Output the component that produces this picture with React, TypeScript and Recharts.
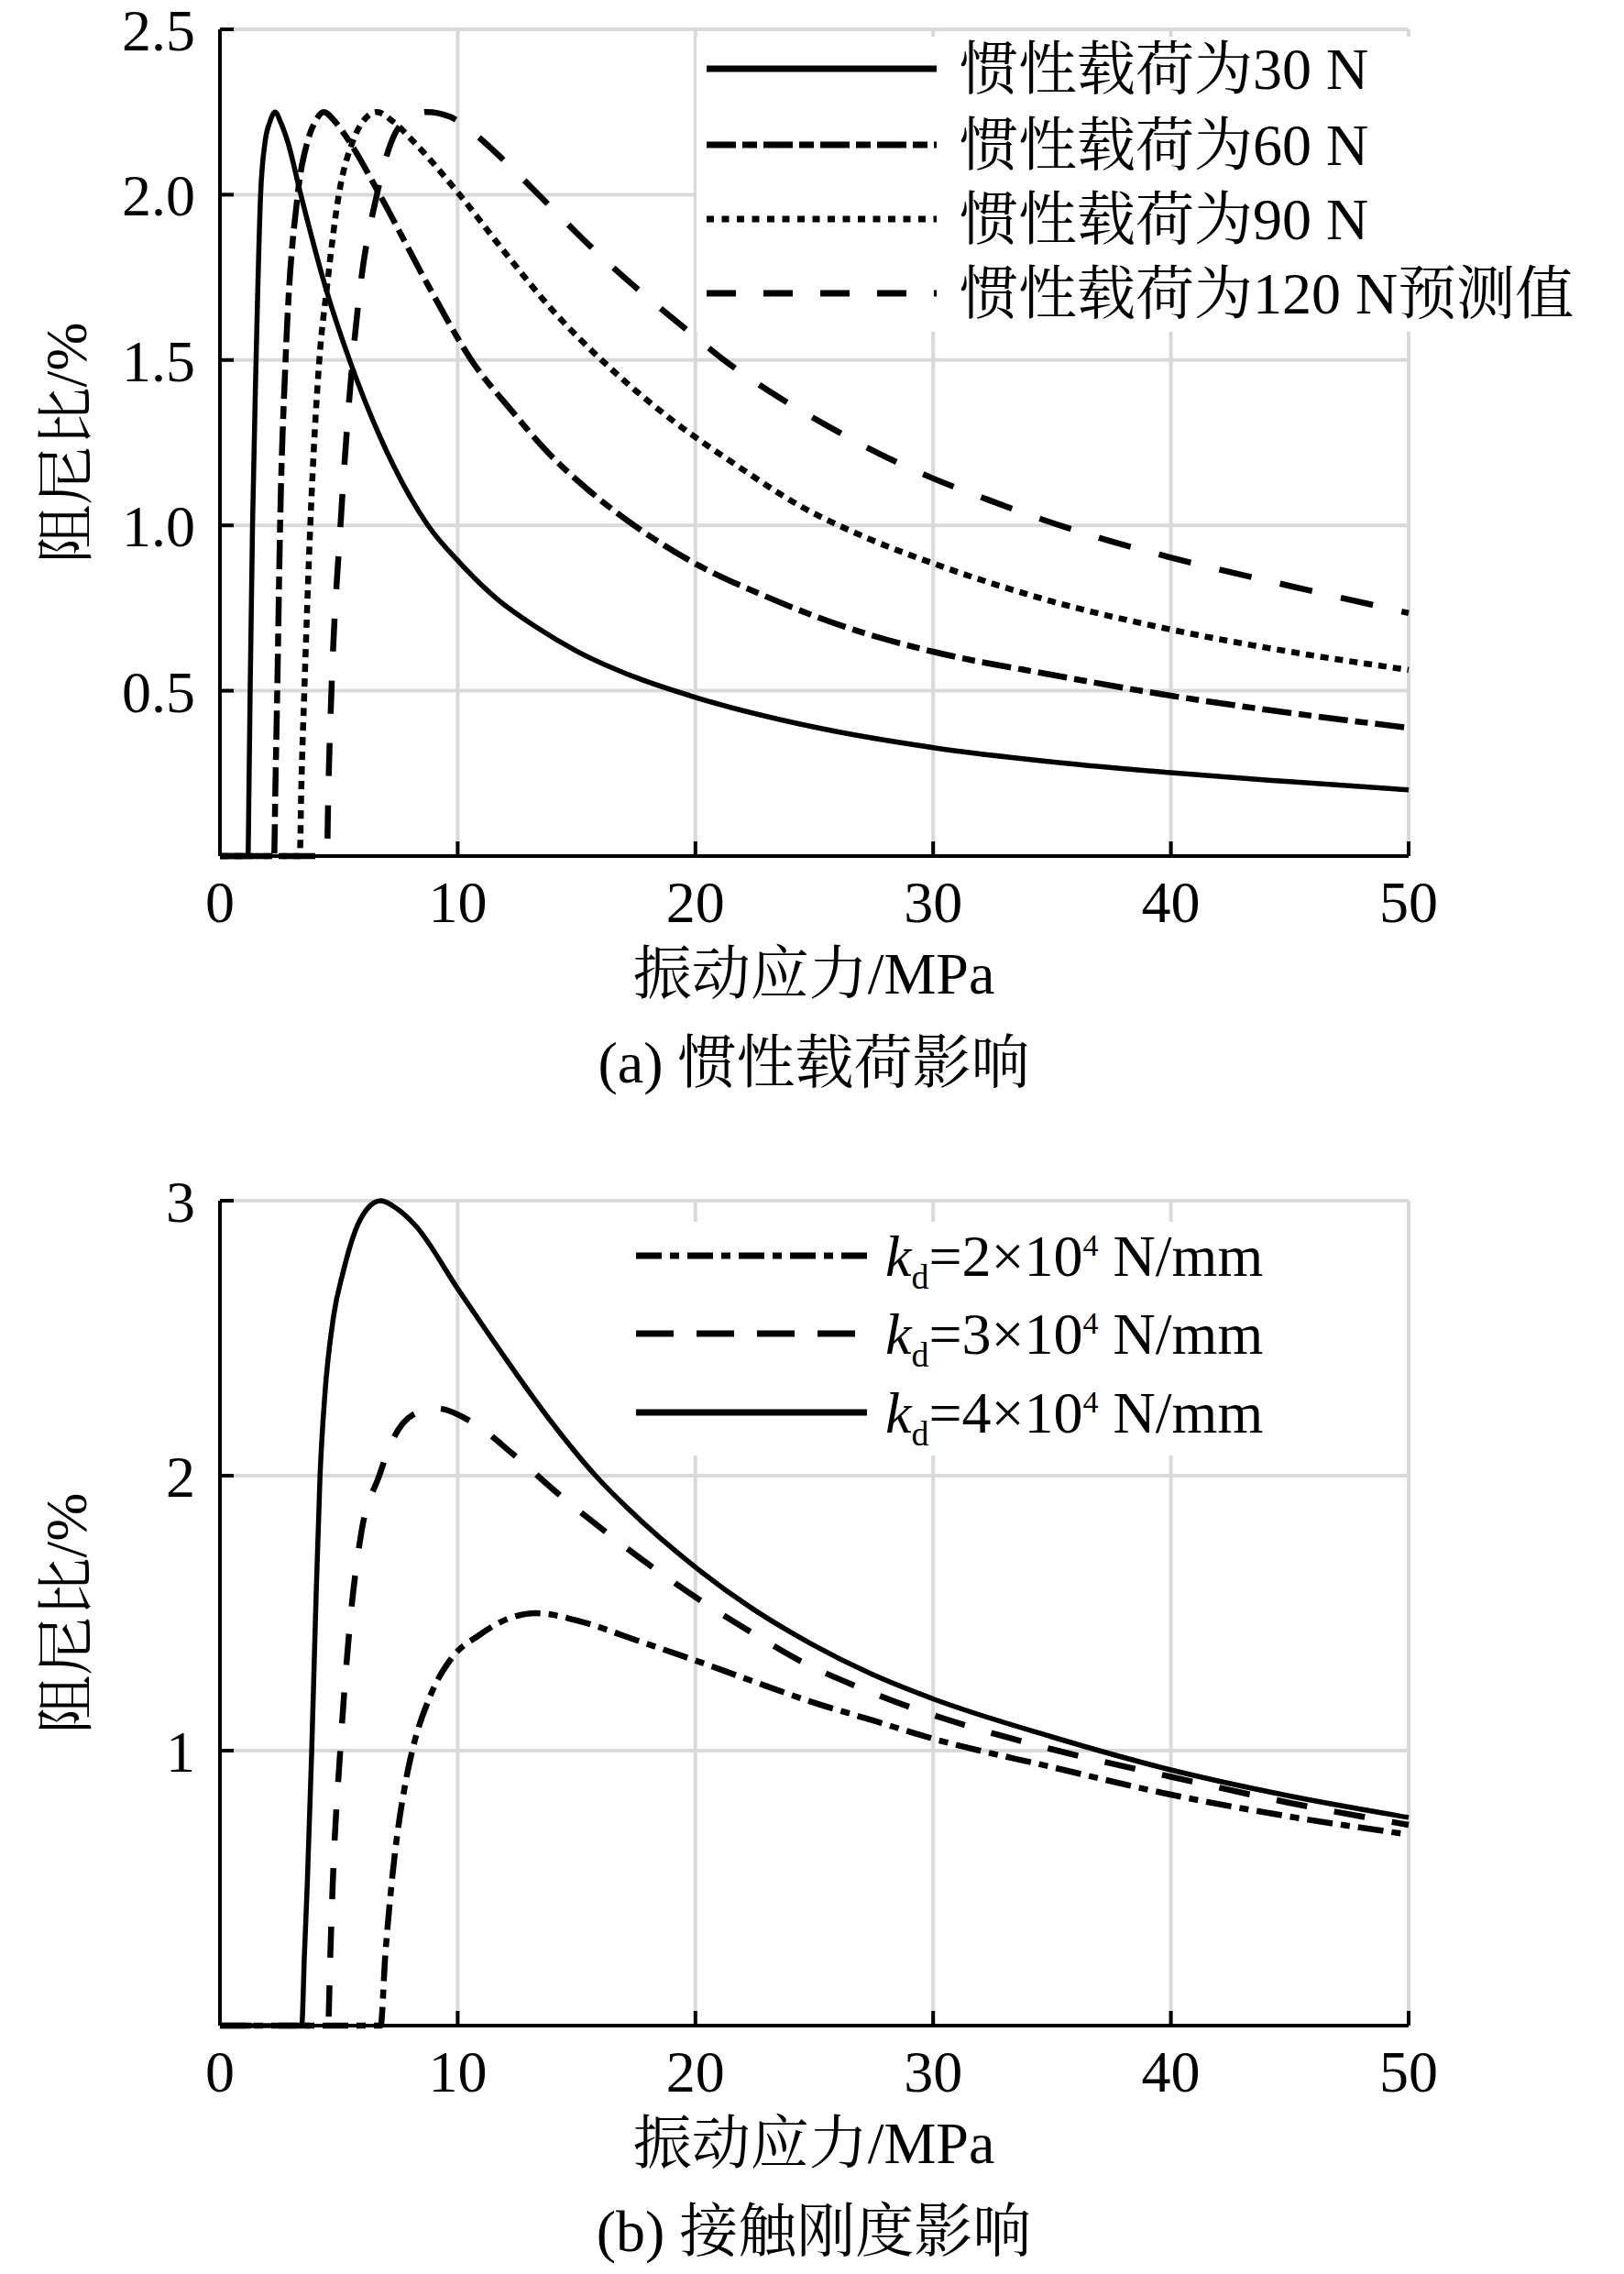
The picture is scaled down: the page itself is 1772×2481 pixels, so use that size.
import React from 'react';
import { LineChart, Line, XAxis, YAxis, CartesianGrid } from 'recharts';

// ---- Chart (a): inertial load ----
const load30X = [0, 1.18, 1.22, 1.27, 1.37, 1.52, 1.71, 1.9, 2.1, 2.32, 2.55, 2.85, 3.4, 4.44, 5.45, 6.72, 8.75, 10.1, 11.73, 13.25, 15, 17.5, 20, 25, 30, 35, 40, 45, 50];
const load30Y = [0, 0, 0.2, 0.5, 1.0, 1.5, 2.0, 2.16, 2.22, 2.25, 2.22, 2.16, 2.0, 1.72, 1.5, 1.27, 1.0, 0.886, 0.773, 0.695, 0.62, 0.54, 0.48, 0.39, 0.328, 0.285, 0.252, 0.225, 0.2];
const load60X = [0, 2.28, 2.33, 2.41, 2.53, 2.76, 3.27, 3.68, 4.0, 4.37, 4.85, 5.45, 6.72, 8.8, 10.63, 12.28, 13.8, 15.58, 17.5, 20, 23, 26.5, 30, 35, 40, 45, 50];
const load60Y = [0, 0, 0.2, 0.5, 1.0, 1.5, 2.0, 2.16, 2.22, 2.25, 2.22, 2.16, 2.0, 1.72, 1.494, 1.346, 1.22, 1.102, 0.996, 0.884, 0.784, 0.688, 0.618, 0.548, 0.485, 0.433, 0.388];
const load90X = [0, 3.36, 3.42, 3.55, 3.8, 4.18, 4.5, 5.0, 5.58, 6.0, 6.6, 7.3, 8.15, 10.08, 12.0, 14.07, 16.14, 18.9, 21.64, 24.4, 27.15, 30.2, 35, 40, 45, 50];
const load90Y = [0, 0, 0.2, 0.5, 1.0, 1.5, 1.72, 2.0, 2.16, 2.22, 2.25, 2.22, 2.16, 2.0, 1.824, 1.644, 1.494, 1.325, 1.186, 1.059, 0.964, 0.88, 0.77, 0.685, 0.618, 0.563];
const load120X = [0, 4.5, 4.56, 4.69, 5.07, 5.58, 5.9, 6.6, 6.9, 7.6, 8.7, 9.7, 10.6, 12.0, 13.8, 15.58, 17.37, 19.3, 21.2, 23.36, 25.5, 27.7, 29.9, 32.4, 34.7, 37, 39.5, 45, 50];
const load120Y = [0, 0, 0.2, 0.5, 1.0, 1.5, 1.72, 2.0, 2.09, 2.21, 2.25, 2.235, 2.19, 2.1, 1.971, 1.844, 1.727, 1.611, 1.5, 1.394, 1.303, 1.218, 1.145, 1.075, 1.015, 0.962, 0.912, 0.817, 0.735];

// ---- Chart (b): contact stiffness ----
const kd2X = [0, 6.76, 6.95, 7.21, 7.84, 8.09, 8.85, 9.73, 10.9, 12.07, 13.3, 15.27, 17.57, 20, 22.3, 24.86, 27.42, 29.97, 35, 40, 45, 50];
const kd2Y = [0, 0, 0.25, 0.507, 0.9, 1.0, 1.2, 1.335, 1.42, 1.478, 1.5, 1.467, 1.4, 1.328, 1.256, 1.178, 1.111, 1.044, 0.94, 0.84, 0.76, 0.695];
const kd3X = [0, 4.55, 4.64, 4.74, 5.06, 5.5, 5.94, 6.7, 7.21, 8.09, 9.1, 10.6, 12.33, 14.24, 16.16, 18.2, 20.25, 22.3, 24.5, 26.8, 29.1, 30.7, 35, 40, 45, 50];
const kd3Y = [0, 0, 0.25, 0.507, 1.0, 1.49, 1.79, 2.0, 2.12, 2.22, 2.245, 2.195, 2.078, 1.933, 1.8, 1.667, 1.544, 1.433, 1.322, 1.233, 1.156, 1.11, 1.005, 0.905, 0.81, 0.73];
const kd4X = [0, 3.44, 3.55, 3.67, 3.86, 4.02, 4.21, 4.4, 4.78, 5.18, 5.69, 6.19, 6.76, 7.46, 8.22, 10, 11.9, 13.9, 15.8, 17.19, 20, 22.3, 24.86, 27.42, 29.97, 35, 40, 45, 50];
const kd4Y = [0, 0, 0.25, 0.507, 1.0, 1.49, 2.0, 2.28, 2.58, 2.74, 2.89, 2.97, 3.0, 2.97, 2.91, 2.68, 2.44, 2.2, 2.0, 1.878, 1.667, 1.522, 1.389, 1.278, 1.189, 1.05, 0.93, 0.835, 0.757];

const xTicks = [0, 10, 20, 30, 40, 50];
const yTicksA = [0.5, 1.0, 1.5, 2.0, 2.5];
const yTicksB = [1, 2, 3];

const legendA = ['惯性载荷为30 N', '惯性载荷为60 N', '惯性载荷为90 N', '惯性载荷为120 N预测值'];
const legendBValues = ['2', '3', '4'];
const xTitle = '振动应力/MPa';
const yTitle = '阻尼比/%';
const captionA = '(a) 惯性载荷影响';
const captionB = '(b) 接触刚度影响';

const zip = (xs: number[], ys: number[]) => xs.map((x, i) => ({ x, y: ys[i] }));

const FONT = "'Times New Roman', 'Liberation Serif', 'Noto Serif CJK SC', 'Noto Sans CJK SC', serif";
const FS = 64;
const SW = 5.5;
const SWD = 6.5;

const DASH60 = '32 8 14 8';
const DASH90 = '9 7';
const DASH120 = '36 32';
const DASHK2 = '28 9 10 9';
const DASHK3 = '34 30';

const LDASH60 = '32 7 16 7';
const LDASH90 = '8 8.5';
const LDASH120 = '32 30';

const XTick = (props: any) => {
  const { x, y, payload } = props;
  return (
    <g>
      {payload.value !== 0 && (
        <line x1={x} y1={y} x2={x} y2={y - 16} stroke="#000" strokeWidth={4} />
      )}
      <text x={x} y={y + 27} dy="0.71em" textAnchor="middle" fontSize={FS} fontFamily={FONT} fill="#000">
        {payload.value}
      </text>
    </g>
  );
};

const makeYTick = (fmt: (v: number) => string) => (props: any) => {
  const { x, y, payload } = props;
  return (
    <g>
      <line x1={x} y1={y} x2={x + 15} y2={y} stroke="#000" strokeWidth={4} />
      <text x={x - 27} y={y} dy="0.36em" textAnchor="end" fontSize={FS} fontFamily={FONT} fill="#000">
        {fmt(payload.value)}
      </text>
    </g>
  );
};

const YTickA = makeYTick((v) => v.toFixed(1));
const YTickB = makeYTick((v) => String(v));

const lineProps = {
  type: 'monotone' as const,
  dataKey: 'y',
  stroke: '#000',
  dot: false,
  activeDot: false,
  isAnimationActive: false,
};

const AxisTexts = ({ plotTop, plotBottom }: { plotTop: number; plotBottom: number }) => {
  const cy = (plotTop + plotBottom) / 2;
  return (
    <g fontFamily={FONT} fontSize={FS} fill="#000">
      <text x={72} y={cy} textAnchor="middle" dominantBaseline="central" transform={`rotate(-90, 72, ${cy})`}>
        {yTitle}
      </text>
      <text x={888} y={plotBottom + 128} textAnchor="middle" dominantBaseline="central">
        {xTitle}
      </text>
    </g>
  );
};

const ChartA = () => {
  const W = 1772;
  const H = 1240;
  const plotTop = 32;
  const plotBottom = 934;
  const rows = [75, 158, 239, 320];
  const dashes = [undefined, LDASH60, LDASH90, LDASH120];
  return (
    <div style={{ position: 'absolute', left: 0, top: 0, width: W, height: H }}>
      <LineChart width={W} height={H} margin={{ top: plotTop, right: 235, bottom: H - plotBottom - 60, left: 140 }}>
        <CartesianGrid stroke="#d9d9d9" strokeWidth={4} />
        <XAxis
          dataKey="x"
          type="number"
          domain={[0, 50]}
          ticks={xTicks}
          height={60}
          tickSize={0}
          tickMargin={0}
          tickLine={false}
          axisLine={{ stroke: '#000', strokeWidth: 4 }}
          tick={XTick}
          allowDuplicatedCategory={false}
        />
        <YAxis
          type="number"
          domain={[0, 2.5]}
          ticks={yTicksA}
          width={100}
          tickSize={0}
          tickMargin={0}
          tickLine={false}
          axisLine={{ stroke: '#000', strokeWidth: 4 }}
          tick={YTickA}
        />
        <Line {...lineProps} strokeWidth={SW} data={zip(load30X, load30Y)} name={legendA[0]} />
        <Line {...lineProps} strokeWidth={SWD} data={zip(load60X, load60Y)} name={legendA[1]} strokeDasharray={DASH60} />
        <Line {...lineProps} strokeWidth={SWD} data={zip(load90X, load90Y)} name={legendA[2]} strokeDasharray={DASH90} />
        <Line {...lineProps} strokeWidth={SWD} data={zip(load120X, load120Y)} name={legendA[3]} strokeDasharray={DASH120} />
      </LineChart>
      <svg width={W} height={H} style={{ position: 'absolute', left: 0, top: 0, pointerEvents: 'none' }}>
        <rect x={760} y={40} width={1012} height={322} fill="#fff" />
        {legendA.map((t, i) => (
          <g key={t}>
            <line x1={771} y1={rows[i]} x2={1022} y2={rows[i]} stroke="#000" strokeWidth={7} strokeDasharray={dashes[i]} />
            <text x={1047} y={rows[i] + 22} fontSize={FS} fontFamily={FONT} fill="#000">
              {t}
            </text>
          </g>
        ))}
        <AxisTexts plotTop={plotTop} plotBottom={plotBottom} />
        <text x={888} y={plotBottom + 225} textAnchor="middle" dominantBaseline="central" fontSize={FS} fontFamily={FONT} fill="#000">
          {captionA}
        </text>
      </svg>
    </div>
  );
};

const ChartB = () => {
  const W = 1772;
  const H = 1241;
  const top0 = 1240;
  const plotTop = 1310 - top0;
  const plotBottom = 2210 - top0;
  const rows = [1370 - top0, 1455 - top0, 1541 - top0];
  const dashes = [DASHK2, '41 25', undefined];
  return (
    <div style={{ position: 'absolute', left: 0, top: top0, width: W, height: H }}>
      <LineChart width={W} height={H} margin={{ top: plotTop, right: 235, bottom: H - plotBottom - 60, left: 140 }}>
        <CartesianGrid stroke="#d9d9d9" strokeWidth={4} />
        <XAxis
          dataKey="x"
          type="number"
          domain={[0, 50]}
          ticks={xTicks}
          height={60}
          tickSize={0}
          tickMargin={0}
          tickLine={false}
          axisLine={{ stroke: '#000', strokeWidth: 4 }}
          tick={XTick}
          allowDuplicatedCategory={false}
        />
        <YAxis
          type="number"
          domain={[0, 3]}
          ticks={yTicksB}
          width={100}
          tickSize={0}
          tickMargin={0}
          tickLine={false}
          axisLine={{ stroke: '#000', strokeWidth: 4 }}
          tick={YTickB}
        />
        <Line {...lineProps} strokeWidth={SWD} data={zip(kd2X, kd2Y)} name="kd2" strokeDasharray={DASHK2} />
        <Line {...lineProps} strokeWidth={SWD} data={zip(kd3X, kd3Y)} name="kd3" strokeDasharray={DASHK3} />
        <Line {...lineProps} strokeWidth={SW} data={zip(kd4X, kd4Y)} name="kd4" />
      </LineChart>
      <svg width={W} height={H} style={{ position: 'absolute', left: 0, top: 0, pointerEvents: 'none' }}>
        <rect x={680} y={1333 - top0} width={790} height={255} fill="#fff" />
        {legendBValues.map((v, i) => (
          <g key={v}>
            <line x1={694} y1={rows[i]} x2={946} y2={rows[i]} stroke="#000" strokeWidth={7} strokeDasharray={dashes[i]} />
            <text x={966} y={rows[i] + 22} fontSize={FS} fontFamily={FONT} fill="#000">
              <tspan fontStyle="italic">k</tspan>
              <tspan fontSize={38} dy={14}>d</tspan>
              <tspan dy={-14}>{`=${v}×10`}</tspan>
              <tspan fontSize={34} dy={-22}>4</tspan>
              <tspan dy={22}> N/mm</tspan>
            </text>
          </g>
        ))}
        <AxisTexts plotTop={plotTop} plotBottom={plotBottom} />
        <text x={888} y={plotBottom + 224} textAnchor="middle" dominantBaseline="central" fontSize={FS} fontFamily={FONT} fill="#000">
          {captionB}
        </text>
      </svg>
    </div>
  );
};

export default function App() {
  return (
    <div style={{ position: 'absolute', left: 0, top: 0, width: 1772, height: 2481, background: '#fff' }}>
      <ChartA />
      <ChartB />
    </div>
  );
}
